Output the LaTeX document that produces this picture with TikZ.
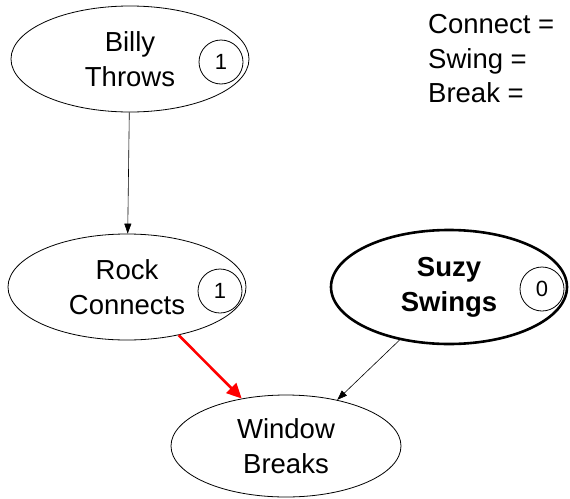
\documentclass[tikz,border=0pt]{standalone}
\usepackage{fontspec}
\setmainfont{Liberation Sans}
\usetikzlibrary{shapes.geometric, arrows.meta}

\begin{document}
\begin{tikzpicture}
		[x=1pt, y=-1pt,
		ev/.style = {draw=black, ellipse, line width=0.8pt, inner sep=0pt, minimum width=238pt, minimum height=106pt, align=center, font=\fontsize{27.5}{35}\selectfont},
		val/.style = {draw=black, circle, line width=0.8pt, minimum size=44pt, inner sep=0pt, font=\fontsize{22}{22}\selectfont},
		lg/.style = {anchor=base west, inner sep=0pt, font=\fontsize{27.5}{27.5}\selectfont},
		arr/.style = {-{Triangle[length=10pt, width=7pt]}, line width=0.6pt}]

		\useasboundingbox (0,0) rectangle (570,498);

		\node[ev] (billy) at (130,59) {Billy\\Throws};
		\node[ev] (rock) at (127,287) {Rock\\Connects};
		\node[ev, line width=2.6pt, minimum width=236pt, minimum height=114pt, font=\fontsize{27.5}{35}\selectfont\bfseries] (suzy) at (449,287) {Suzy\\Swings};
		\node[ev, minimum width=230pt, minimum height=102pt] (window) at (286,446) {Window\\Breaks};

		\node[val] (billyval) at (221,62) {1};
		\node[val] (rockval) at (220,291) {1};
		\node[val] (suzyval) at (542,289) {0};

		\foreach \y/\txt in {33/Connect =, 68/Swing =, 102/Break =}
		{
			\node[lg] (lg\y) at (428,\y) {\txt};
		}

		\draw (billy) edge[arr] (rock);
		\draw (rock.-43) edge[-{Triangle[length=15pt, width=14pt]}, line width=2.6pt, red] (window.133);
		\draw (suzy.-133) edge[arr] (window.42);

	\end{tikzpicture}
\end{document}
